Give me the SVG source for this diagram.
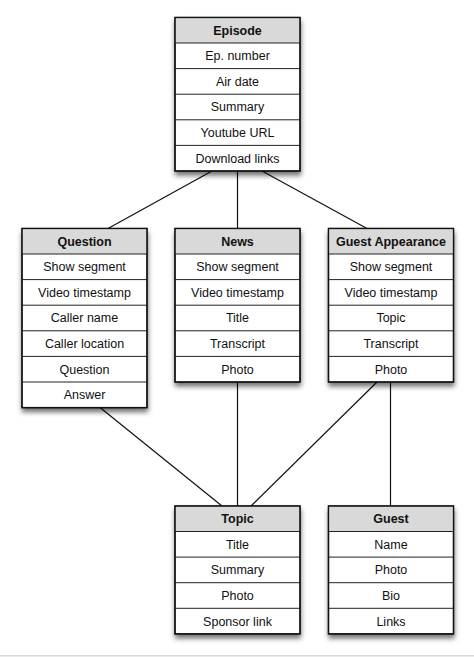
<svg xmlns="http://www.w3.org/2000/svg" width="474" height="657" viewBox="0 0 474 657">
<style>
.box{fill:#fff;stroke:#111;stroke-width:1.3}
.hdr{fill:#d9d9d9;stroke:none}
.sep{stroke:#222;stroke-width:1}
.t{font-family:"Liberation Sans",Arial,sans-serif;font-size:12.5px;fill:#111;text-anchor:middle}
.b{font-weight:bold}
.conn line{stroke:#111;stroke-width:1.2}
</style>
<defs>
<filter id="sh" x="-20%" y="-20%" width="140%" height="140%">
<feDropShadow dx="0.5" dy="4" stdDeviation="2.5" flood-color="#000" flood-opacity="0.55"/>
</filter>
</defs>
<rect x="0" y="0" width="474" height="657" fill="#fff"/>
<rect x="0" y="655" width="474" height="1.5" fill="#d6d6d6"/>
<g class="conn" id="connectors">
<line x1="212" y1="171" x2="108" y2="228.5"/>
<line x1="237.5" y1="171" x2="237.5" y2="228.5"/>
<line x1="262" y1="171" x2="367" y2="228.5"/>
<line x1="100" y1="407.5" x2="222" y2="506"/>
<line x1="237.5" y1="382" x2="237.5" y2="506"/>
<line x1="377" y1="382" x2="251" y2="506"/>
<line x1="390.5" y1="382" x2="390.5" y2="506"/>
</g>
<g id="episode">
<rect class="box" x="175" y="17.5" width="125" height="153.5" filter="url(#sh)"/>
<rect class="hdr" x="175.6" y="18.1" width="123.8" height="24.9"/>
<line class="sep" x1="175" y1="43" x2="300" y2="43"/>
<line class="sep" x1="175" y1="68.6" x2="300" y2="68.6"/>
<line class="sep" x1="175" y1="94.2" x2="300" y2="94.2"/>
<line class="sep" x1="175" y1="119.8" x2="300" y2="119.8"/>
<line class="sep" x1="175" y1="145.4" x2="300" y2="145.4"/>
<rect x="175" y="17.5" width="125" height="153.5" fill="none" stroke="#111" stroke-width="1.3"/>
<text class="t b" x="237.5" y="34.7">Episode</text>
<text class="t" x="237.5" y="60.2">Ep. number</text>
<text class="t" x="237.5" y="85.8">Air date</text>
<text class="t" x="237.5" y="111.4">Summary</text>
<text class="t" x="237.5" y="137">Youtube URL</text>
<text class="t" x="237.5" y="162.6">Download links</text>
</g>
<g id="question">
<rect class="box" x="22" y="228.5" width="125" height="179.1" filter="url(#sh)"/>
<rect class="hdr" x="22.6" y="229.1" width="123.8" height="24.9"/>
<line class="sep" x1="22" y1="254" x2="147" y2="254"/>
<line class="sep" x1="22" y1="279.6" x2="147" y2="279.6"/>
<line class="sep" x1="22" y1="305.2" x2="147" y2="305.2"/>
<line class="sep" x1="22" y1="330.8" x2="147" y2="330.8"/>
<line class="sep" x1="22" y1="356.4" x2="147" y2="356.4"/>
<line class="sep" x1="22" y1="382" x2="147" y2="382"/>
<rect x="22" y="228.5" width="125" height="179.1" fill="none" stroke="#111" stroke-width="1.3"/>
<text class="t b" x="84.5" y="245.7">Question</text>
<text class="t" x="84.5" y="271.2">Show segment</text>
<text class="t" x="84.5" y="296.8">Video timestamp</text>
<text class="t" x="84.5" y="322.4">Caller name</text>
<text class="t" x="84.5" y="348">Caller location</text>
<text class="t" x="84.5" y="373.6">Question</text>
<text class="t" x="84.5" y="399.2">Answer</text>
</g>
<g id="news">
<rect class="box" x="175" y="228.5" width="125" height="153.5" filter="url(#sh)"/>
<rect class="hdr" x="175.6" y="229.1" width="123.8" height="24.9"/>
<line class="sep" x1="175" y1="254" x2="300" y2="254"/>
<line class="sep" x1="175" y1="279.6" x2="300" y2="279.6"/>
<line class="sep" x1="175" y1="305.2" x2="300" y2="305.2"/>
<line class="sep" x1="175" y1="330.8" x2="300" y2="330.8"/>
<line class="sep" x1="175" y1="356.4" x2="300" y2="356.4"/>
<rect x="175" y="228.5" width="125" height="153.5" fill="none" stroke="#111" stroke-width="1.3"/>
<text class="t b" x="237.5" y="245.7">News</text>
<text class="t" x="237.5" y="271.2">Show segment</text>
<text class="t" x="237.5" y="296.8">Video timestamp</text>
<text class="t" x="237.5" y="322.4">Title</text>
<text class="t" x="237.5" y="348">Transcript</text>
<text class="t" x="237.5" y="373.6">Photo</text>
</g>
<g id="guest-appearance">
<rect class="box" x="328.5" y="228.5" width="125" height="153.5" filter="url(#sh)"/>
<rect class="hdr" x="329.1" y="229.1" width="123.8" height="24.9"/>
<line class="sep" x1="328.5" y1="254" x2="453.5" y2="254"/>
<line class="sep" x1="328.5" y1="279.6" x2="453.5" y2="279.6"/>
<line class="sep" x1="328.5" y1="305.2" x2="453.5" y2="305.2"/>
<line class="sep" x1="328.5" y1="330.8" x2="453.5" y2="330.8"/>
<line class="sep" x1="328.5" y1="356.4" x2="453.5" y2="356.4"/>
<rect x="328.5" y="228.5" width="125" height="153.5" fill="none" stroke="#111" stroke-width="1.3"/>
<text class="t b" x="391" y="245.7">Guest Appearance</text>
<text class="t" x="391" y="271.2">Show segment</text>
<text class="t" x="391" y="296.8">Video timestamp</text>
<text class="t" x="391" y="322.4">Topic</text>
<text class="t" x="391" y="348">Transcript</text>
<text class="t" x="391" y="373.6">Photo</text>
</g>
<g id="topic">
<rect class="box" x="175" y="506" width="125" height="127.9" filter="url(#sh)"/>
<rect class="hdr" x="175.6" y="506.6" width="123.8" height="24.9"/>
<line class="sep" x1="175" y1="531.5" x2="300" y2="531.5"/>
<line class="sep" x1="175" y1="557.1" x2="300" y2="557.1"/>
<line class="sep" x1="175" y1="582.7" x2="300" y2="582.7"/>
<line class="sep" x1="175" y1="608.3" x2="300" y2="608.3"/>
<rect x="175" y="506" width="125" height="127.9" fill="none" stroke="#111" stroke-width="1.3"/>
<text class="t b" x="237.5" y="523.2">Topic</text>
<text class="t" x="237.5" y="548.7">Title</text>
<text class="t" x="237.5" y="574.3">Summary</text>
<text class="t" x="237.5" y="599.9">Photo</text>
<text class="t" x="237.5" y="625.5">Sponsor link</text>
</g>
<g id="guest">
<rect class="box" x="328.5" y="506" width="125" height="127.9" filter="url(#sh)"/>
<rect class="hdr" x="329.1" y="506.6" width="123.8" height="24.9"/>
<line class="sep" x1="328.5" y1="531.5" x2="453.5" y2="531.5"/>
<line class="sep" x1="328.5" y1="557.1" x2="453.5" y2="557.1"/>
<line class="sep" x1="328.5" y1="582.7" x2="453.5" y2="582.7"/>
<line class="sep" x1="328.5" y1="608.3" x2="453.5" y2="608.3"/>
<rect x="328.5" y="506" width="125" height="127.9" fill="none" stroke="#111" stroke-width="1.3"/>
<text class="t b" x="391" y="523.2">Guest</text>
<text class="t" x="391" y="548.7">Name</text>
<text class="t" x="391" y="574.3">Photo</text>
<text class="t" x="391" y="599.9">Bio</text>
<text class="t" x="391" y="625.5">Links</text>
</g>
</svg>
